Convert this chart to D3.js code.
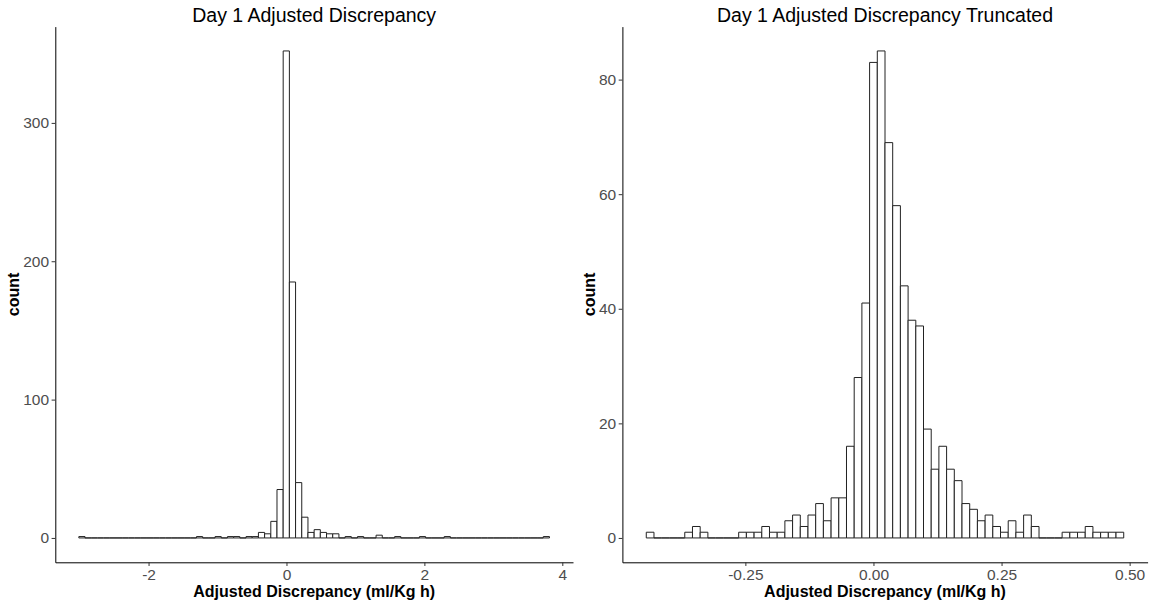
<!DOCTYPE html>
<html>
<head>
<meta charset="utf-8">
<script src="https://cdn.jsdelivr.net/npm/d3@7"></script>
<style>
  body { margin: 0; background: #fff; }
  svg { display: block; font-family: "Liberation Sans", Arial, sans-serif; }
</style>
</head>
<body>
<div id="chart"></div>
<script>
const FRAME_WIDTH = 1156;
const FRAME_HEIGHT = 604;

// left histogram: counts per bin, starting at the left edge of the first bin
const LEFT_TITLE = "Day 1 Adjusted Discrepancy";
const LEFT_BIN_START = -3.011;
const LEFT_BIN_WIDTH = 0.0898;
const LEFT_COUNTS = [
  1, 0, 0, 0, 0, 0, 0, 0, 0, 0,
  0, 0, 0, 0, 0, 0, 0, 0, 0, 1,
  0, 0, 1, 0, 1, 1, 0, 1, 1, 4,
  3, 12, 35, 352, 185, 40, 15, 4, 6, 4,
  3, 3, 0, 1, 0, 1, 0, 0, 2, 0,
  0, 1, 0, 0, 0, 1, 0, 0, 0, 1,
  0, 0, 0, 0, 0, 0, 0, 0, 0, 0,
  0, 0, 0, 0, 0, 1
];
const LEFT_X_TICKS = [-2, 0, 2, 4];
const LEFT_Y_TICKS = [0, 100, 200, 300];

// right histogram (truncated data)
const RIGHT_TITLE = "Day 1 Adjusted Discrepancy Truncated";
const RIGHT_BIN_START = -0.4434;
const RIGHT_BIN_WIDTH = 0.01503;
const RIGHT_COUNTS = [
  1, 0, 0, 0, 0, 1, 2, 1, 0, 0,
  0, 0, 1, 1, 1, 2, 1, 1, 3, 4,
  2, 4, 6, 3, 7, 7, 16, 28, 41, 83,
  85, 69, 58, 44, 38, 37, 19, 12, 16, 12,
  10, 6, 5, 3, 4, 2, 1, 3, 1, 4,
  2, 0, 0, 0, 1, 1, 1, 2, 1, 1,
  1, 1
];
const RIGHT_X_TICKS = [-0.25, 0, 0.25, 0.5];
const RIGHT_Y_TICKS = [0, 20, 40, 60, 80];

const X_LABEL = "Adjusted Discrepancy (ml/Kg h)";
const Y_LABEL = "count";

const SVG = d3.select("#chart")
  .append("svg")
    .attr("width", FRAME_WIDTH)
    .attr("height", FRAME_HEIGHT);

function plot_hist(opts) {
  const bins = opts.counts.map((c, i) => ({
    x0: opts.start + i * opts.width,
    x1: opts.start + (i + 1) * opts.width,
    count: c
  }));

  // ggplot style 5% expansion
  const lo = bins[0].x0, hi = bins[bins.length - 1].x1;
  const span = hi - lo;
  const maxC = d3.max(opts.counts);

  const X_SCALE = d3.scaleLinear()
    .domain([lo - 0.05 * span, hi + 0.05 * span])
    .range([opts.left, opts.right]);
  const Y_SCALE = d3.scaleLinear()
    .domain([-0.05 * maxC, maxC * 1.05])
    .range([opts.bottom, opts.top]);

  const g = SVG.append("g");

  // paths so that empty bins still show as a flat line at zero, like ggplot
  g.selectAll(".bar")
    .data(bins)
    .enter()
    .append("path")
      .attr("class", "bar")
      .attr("d", d => {
        const x0 = X_SCALE(d.x0), x1 = X_SCALE(d.x1);
        const y0 = Y_SCALE(0), y1 = Y_SCALE(d.count);
        return "M" + x0 + "," + y0 + "V" + y1 + "H" + x1 + "V" + y0 + "Z";
      })
      .attr("fill", "white")
      .attr("stroke", "#222")
      .attr("stroke-width", 1);

  const fmt = d => opts.xFormat(d).replace("\u2212", "-");

  // x axis
  const xAxis = g.append("g")
    .attr("transform", "translate(0," + opts.bottom + ")")
    .call(d3.axisBottom(X_SCALE)
      .tickValues(opts.xTicks)
      .tickFormat(fmt)
      .tickSize(3.7)
      .tickSizeOuter(0)
      .tickPadding(2.5));

  // y axis
  const yAxis = g.append("g")
    .attr("transform", "translate(" + opts.left + ",0)")
    .call(d3.axisLeft(Y_SCALE)
      .tickValues(opts.yTicks)
      .tickSize(3.7)
      .tickSizeOuter(0)
      .tickPadding(2.5));

  [xAxis, yAxis].forEach(a => {
    a.select(".domain").attr("stroke", "#000").attr("stroke-width", 1);
    a.selectAll(".tick line").attr("stroke", "#333");
    a.selectAll(".tick text")
      .attr("fill", "#4D4D4D")
      .attr("font-size", "15.5px")
      .attr("font-family", "Liberation Sans, Arial, sans-serif");
  });

  const cx = (opts.left + opts.right) / 2;
  const cy = (opts.top + opts.bottom) / 2;

  g.append("text")
    .attr("x", cx)
    .attr("y", 21.5)
    .attr("text-anchor", "middle")
    .attr("font-size", "19.5px")
    .attr("fill", "#000")
    .text(opts.title);

  g.append("text")
    .attr("x", cx)
    .attr("y", 597)
    .attr("text-anchor", "middle")
    .attr("font-size", "16px")
    .attr("font-weight", "bold")
    .text(X_LABEL);

  g.append("text")
    .attr("transform", "translate(" + opts.yLabelX + "," + cy + ") rotate(-90)")
    .attr("text-anchor", "middle")
    .attr("font-size", "16px")
    .attr("font-weight", "bold")
    .text(Y_LABEL);
}

plot_hist({
  title: LEFT_TITLE, start: LEFT_BIN_START, width: LEFT_BIN_WIDTH, counts: LEFT_COUNTS,
  xTicks: LEFT_X_TICKS, yTicks: LEFT_Y_TICKS, xFormat: d3.format("d"),
  left: 55.3, right: 573, top: 26.6, bottom: 562.3, yLabelX: 19
});

plot_hist({
  title: RIGHT_TITLE, start: RIGHT_BIN_START, width: RIGHT_BIN_WIDTH, counts: RIGHT_COUNTS,
  xTicks: RIGHT_X_TICKS, yTicks: RIGHT_Y_TICKS, xFormat: d3.format(".2f"),
  left: 622.4, right: 1147.6, top: 26.6, bottom: 562.3, yLabelX: 595
});
</script>
</body>
</html>
